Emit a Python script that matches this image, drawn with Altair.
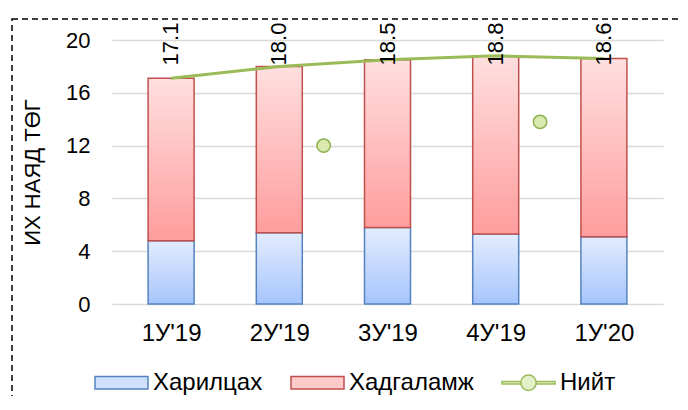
import json
import altair as alt
import pandas as pd

# ---- data ----
categories = ["1У'19", "2У'19", "3У'19", "4У'19", "1У'20"]
harilcah = [4.8, 5.4, 5.8, 5.3, 5.1]          # Харилцах (blue)
hadgalamj = [12.3, 12.6, 12.7, 13.5, 13.5]    # Хадгаламж (red)
niit = [17.1, 18.0, 18.5, 18.8, 18.6]         # Нийт (green line / labels)
niit_labels = ["17.1", "18.0", "18.5", "18.8", "18.6"]
# stray marker points of the Нийт series seen in the picture
extra_x = [1.41, 3.41]
extra_y = [12.0, 13.8]
series_names = ["Харилцах", "Хадгаламж", "Нийт"]
y_ticks = [0, 4, 8, 12, 16, 20]

FONT = "Liberation Sans"

df = pd.DataFrame({
    "idx": list(range(len(categories))),
    "cat": categories,
    "har": harilcah,
    "had": hadgalamj,
    "niit": niit,
    "lab": niit_labels,
})
df["had_end"] = df["har"] + df["had"]
df["zero"] = 0.0

extra_df = pd.DataFrame({"x": extra_x, "y": extra_y})

label_expr = json.dumps(categories, ensure_ascii=False) + "[round(datum.value)]"

x_enc = alt.X(
    "idx:Q",
    scale=alt.Scale(domain=[-0.5, len(categories) - 0.5], nice=False, zero=False),
    axis=alt.Axis(
        values=list(range(len(categories))),
        labelExpr=label_expr,
        title=None,
        grid=False,
        domain=False,
        ticks=False,
        tickSize=0,
        labelPadding=17,
        labelFontSize=24,
        labelFont=FONT,
        labelColor="#000000",
    ),
)
y_scale = alt.Scale(domain=[0, 20], nice=False)
y_enc = alt.Y(
    "zero:Q",
    scale=y_scale,
    axis=alt.Axis(
        values=y_ticks,
        title="ИХ НАЯД ТӨГ",
        titleFont=FONT,
        titleFontSize=22,
        titleFontWeight="normal",
        titleColor="#000000",
        titleAngle=270,
        titleX=-80,
        titleY=132,
        titleAlign="center",
        titleBaseline="middle",
        grid=True,
        gridColor="#d9d9d9",
        gridWidth=1.5,
        domain=False,
        ticks=False,
        tickSize=0,
        labelPadding=22,
        labelFontSize=22,
        labelFont=FONT,
        labelColor="#000000",
    ),
)

blue_grad = alt.Gradient(
    gradient="linear",
    stops=[alt.GradientStop(color="#e3ecfe", offset=0),
           alt.GradientStop(color="#a6c5fd", offset=1)],
    x1=0, x2=0, y1=0, y2=1,
)
red_grad = alt.Gradient(
    gradient="linear",
    stops=[alt.GradientStop(color="#ffdfdf", offset=0),
           alt.GradientStop(color="#ff9d9d", offset=1)],
    x1=0, x2=0, y1=0, y2=1,
)

base = alt.Chart(df)

bars_blue = base.mark_bar(fill=blue_grad, stroke="#5683bf", strokeWidth=1.5, width=46).encode(
    x=x_enc, y=y_enc, y2="har:Q"
)
bars_red = base.mark_bar(fill=red_grad, stroke="#c0504d", strokeWidth=1.5, width=46).encode(
    x="idx:Q", y=alt.Y("har:Q", scale=y_scale), y2="had_end:Q"
)
line = base.mark_line(color="#9bbb59", strokeWidth=3).encode(
    x="idx:Q", y=alt.Y("niit:Q", scale=y_scale)
)
labels = base.mark_text(
    angle=270, align="center", baseline="middle", fontSize=22, font=FONT, color="#000000"
).encode(x="idx:Q", y=alt.value(4), text="lab:N")

extra_pts = alt.Chart(extra_df).mark_point(
    filled=True, shape="circle", size=180, fill="#d9e9b0", stroke="#8fb04e", strokeWidth=1.5, opacity=1
).encode(x="x:Q", y=alt.Y("y:Q", scale=y_scale))

# legend (hidden marks, visible legend)
rect_path = "M-1,-0.24H1V0.24H-1Z"
line_circle_path = ("M-1,-0.045H-0.29V0.045H-1Z M0.29,-0.045H1V0.045H0.29Z "
                    "M0.29,0A0.29,0.29 0 1,1 -0.29,0A0.29,0.29 0 1,1 0.29,0Z")
legend_fills = ["#cfdffc", "#ffcaca", "#e4f0c8"]
legend_strokes = ["#5683bf", "#c0504d", "#9bbb59"]
legend_shapes = [rect_path, rect_path, line_circle_path]

leg = alt.Legend(
    orient="none",
    legendX=-18,
    legendY=315,
    direction="horizontal",
    title=None,
    symbolSize=2809,
    symbolStrokeWidth=1.5,
    symbolOpacity=1,
    labelFontSize=24,
    labelFont=FONT,
    labelColor="#000000",
    labelOffset=4,
    columnPadding=25,
    padding=0,
)
legend_layer = alt.Chart(pd.DataFrame({"series": series_names})).mark_point(
    filled=True, opacity=0
).encode(
    fill=alt.Fill("series:N", scale=alt.Scale(domain=series_names, range=legend_fills), legend=leg),
    stroke=alt.Stroke("series:N", scale=alt.Scale(domain=series_names, range=legend_strokes), legend=leg),
    shape=alt.Shape("series:N", scale=alt.Scale(domain=series_names, range=legend_shapes), legend=leg),
)

border = alt.Chart(pd.DataFrame({"a": [0]})).mark_rect(
    fill="transparent", stroke="#000000", strokeWidth=1.5, strokeDash=[6, 4]
).encode(x=alt.value(-100), x2=alt.value(800), y=alt.value(-21), y2=alt.value(600))

chart = alt.layer(
    border, bars_blue, bars_red, line, extra_pts, labels, legend_layer
).properties(
    width=551,
    height=264,
    autosize=alt.AutoSizeParams(type="none"),
    padding={"left": 104, "top": 32, "right": 17, "bottom": 92},
).configure_view(strokeWidth=0)

chart.save("out.html", embed_options={"renderer": "svg", "actions": False})
